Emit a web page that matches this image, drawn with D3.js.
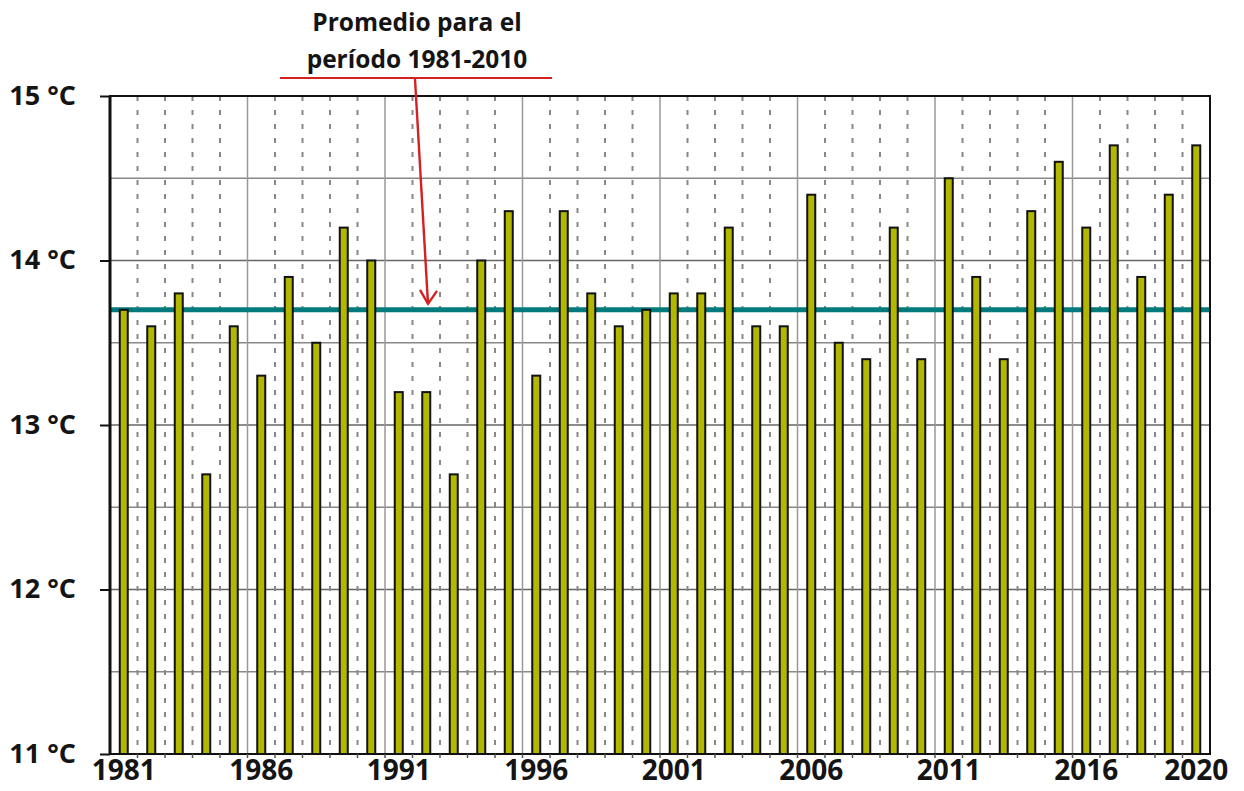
<!DOCTYPE html>
<html>
<head>
<meta charset="utf-8">
<script src="https://cdn.jsdelivr.net/npm/d3@7"></script>
<style>
  body { margin: 0; background: #fff; }
  text { font-family: "Open Sans", "DejaVu Sans", sans-serif; font-weight: bold; fill: #141414; }
</style>
</head>
<body>
<div id="chart"></div>
<script>
// years and annual mean temperature (°C)
let years = d3.range(1981, 2021);
let temps = [13.7, 13.6, 13.8, 12.7, 13.6, 13.3, 13.9, 13.5, 14.2, 14.0,
             13.2, 13.2, 12.7, 14.0, 14.3, 13.3, 14.3, 13.8, 13.6, 13.7,
             13.8, 13.8, 14.2, 13.6, 13.6, 14.4, 13.5, 13.4, 14.2, 13.4,
             14.5, 13.9, 13.4, 14.3, 14.6, 14.2, 14.7, 13.9, 14.4, 14.7];
let average = 13.7;
let yTicks = [11, 12, 13, 14, 15];
let xLabels = [1981, 1986, 1991, 1996, 2001, 2006, 2011, 2016, 2020];
let noteLines = ["Promedio para el", "período 1981-2010"];

function main() {
    let data = years.map(function (y, i) { return {"year": y, "temp": temps[i]}; });

    var margin = {top: 96, right: 34, bottom: 37, left: 110},
        width = 1244 - margin.left - margin.right,
        height = 791 - margin.top - margin.bottom;

    var root = d3.select("#chart")
        .append("svg")
        .attr("width", 1244)
        .attr("height", 791);

    var svg = root.append("g")
        .attr("transform", "translate(" + margin.left + "," + margin.top + ")");

    var x = d3.scaleBand()
        .domain(years)
        .range([0, width]);

    var y = d3.scaleLinear()
        .domain([11, 15])
        .range([height, 0]);

    // horizontal grid every half degree
    svg.append("g")
        .selectAll("line")
        .data(d3.range(11.5, 15, 0.5))
        .enter()
        .append("line")
        .attr("x1", 0).attr("x2", width)
        .attr("y1", function (d) { return y(d); })
        .attr("y2", function (d) { return y(d); })
        .attr("stroke", function (d) { return d % 1 === 0 ? "#666" : "#888"; })
        .attr("stroke-width", 1.5);

    // vertical grid at year boundaries: solid every 5 years, dashed otherwise
    svg.append("g")
        .selectAll("line")
        .data(years.slice(1))
        .enter()
        .append("line")
        .attr("x1", function (d) { return x(d); })
        .attr("x2", function (d) { return x(d); })
        .attr("y1", 0).attr("y2", height)
        .attr("stroke", function (d) { return (d - 1981) % 5 === 0 ? "#999" : "#888"; })
        .attr("stroke-width", function (d) { return (d - 1981) % 5 === 0 ? 1.5 : 2; })
        .attr("stroke-dasharray", function (d) { return (d - 1981) % 5 === 0 ? null : "5,9"; });

    // average line
    svg.append("line")
        .attr("x1", 0).attr("x2", width)
        .attr("y1", y(average)).attr("y2", y(average))
        .attr("stroke", "#007a7a")
        .attr("stroke-width", 5);

    // bars
    var bw = 8;
    svg.selectAll(".bar")
        .data(data)
        .enter()
        .append("rect")
        .attr("class", "bar")
        .attr("x", function (d) { return x(d.year) + x.bandwidth() / 2 - bw / 2; })
        .attr("y", function (d) { return y(d.temp); })
        .attr("width", bw)
        .attr("height", function (d) { return height - y(d.temp); })
        .attr("fill", "#b2b800")
        .attr("stroke", "#111")
        .attr("stroke-width", 2);

    // frame
    svg.append("rect")
        .attr("x", 0).attr("y", 0)
        .attr("width", width).attr("height", height)
        .attr("fill", "none")
        .attr("stroke", "#111")
        .attr("stroke-width", 2);
    svg.append("line")
        .attr("x1", 0).attr("x2", 0)
        .attr("y1", 0).attr("y2", height)
        .attr("stroke", "#111")
        .attr("stroke-width", 3);

    // y axis
    var yAxis = svg.append("g")
        .call(d3.axisLeft(y).tickValues(yTicks).tickSize(10).tickFormat(function (d) { return d + " °C"; }));
    yAxis.select(".domain").remove();
    yAxis.selectAll("line").attr("stroke", "#111").attr("stroke-width", 2);
    yAxis.selectAll("text")
        .attr("x", -34)
        .attr("dy", "0.3em")
        .style("font-size", "27px");

    // x axis labels
    var xAxis = svg.append("g")
        .attr("transform", "translate(0," + height + ")")
        .call(d3.axisBottom(x).tickValues(xLabels).tickSize(0));
    xAxis.select(".domain").remove();
    xAxis.selectAll("text")
        .attr("y", 6)
        .attr("dy", "0.71em")
        .style("font-size", "28px");

    // small ticks at year boundaries
    svg.append("g")
        .selectAll("line")
        .data(years.slice(1))
        .enter()
        .append("line")
        .attr("x1", function (d) { return x(d); })
        .attr("x2", function (d) { return x(d); })
        .attr("y1", height).attr("y2", height + 4)
        .attr("stroke", "#555")
        .attr("stroke-width", 1.5);

    // annotation
    var note = root.append("g");
    note.selectAll("text")
        .data(noteLines)
        .enter()
        .append("text")
        .attr("x", 417)
        .attr("y", function (d, i) { return 31 + i * 37; })
        .attr("text-anchor", "middle")
        .style("font-size", "24.5px")
        .text(function (d) { return d; });

    note.append("line")
        .attr("x1", 280).attr("x2", 552)
        .attr("y1", 78).attr("y2", 78)
        .attr("stroke", "#d42020")
        .attr("stroke-width", 2);

    var ax1 = 415, ay1 = 79, ax2 = 428, ay2 = margin.top + y(average) - 6;
    note.append("line")
        .attr("x1", ax1).attr("y1", ay1)
        .attr("x2", ax2).attr("y2", ay2)
        .attr("stroke", "#d42020")
        .attr("stroke-width", 2.4);
    note.append("path")
        .attr("d", d3.line()([[ax2 - 8, ay2 - 14], [ax2, ay2], [ax2 + 9, ay2 - 13]]))
        .attr("fill", "none")
        .attr("stroke", "#d42020")
        .attr("stroke-width", 2.4);
}

main();
</script>
</body>
</html>
